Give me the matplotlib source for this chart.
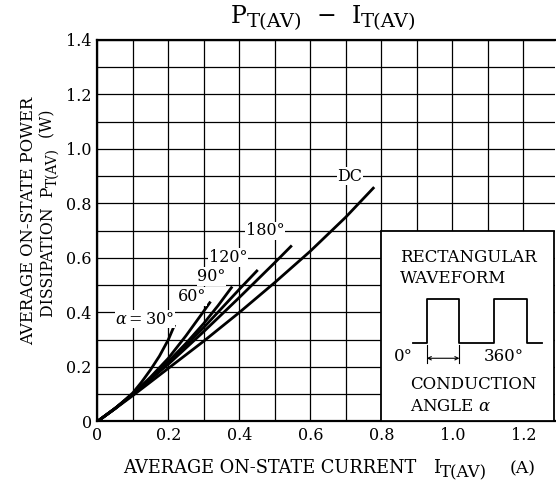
import matplotlib
matplotlib.use("Agg")
import matplotlib.pyplot as plt
from matplotlib.ticker import MultipleLocator, FuncFormatter
from matplotlib.patches import Rectangle

plt.rcParams["font.family"] = "DejaVu Serif"
plt.rcParams["mathtext.fontset"] = "custom"
plt.rcParams["mathtext.rm"] = "DejaVu Serif"
plt.rcParams["mathtext.it"] = "DejaVu Serif:italic"

# curve data (A, W)
dc_i = [0, 0.05, 0.1, 0.2, 0.3, 0.4, 0.5, 0.6, 0.7, 0.78]
dc_p = [0, 0.047, 0.095, 0.195, 0.295, 0.40, 0.51, 0.625, 0.75, 0.86]
a180_i = [0, 0.05, 0.1, 0.2, 0.3, 0.4, 0.5, 0.548]
a180_p = [0, 0.048, 0.10, 0.21, 0.33, 0.455, 0.583, 0.646]
a120_i = [0, 0.05, 0.1, 0.2, 0.3, 0.4, 0.452]
a120_p = [0, 0.048, 0.10, 0.215, 0.345, 0.485, 0.556]
a90_i = [0, 0.05, 0.1, 0.15, 0.2, 0.25, 0.3, 0.34, 0.38]
a90_p = [0, 0.048, 0.10, 0.158, 0.22, 0.287, 0.36, 0.425, 0.495]
a60_i = [0, 0.05, 0.1, 0.15, 0.2, 0.25, 0.3, 0.319]
a60_p = [0, 0.048, 0.10, 0.163, 0.232, 0.315, 0.405, 0.44]
a30_i = [0, 0.05, 0.1, 0.125, 0.15, 0.175, 0.2, 0.218]
a30_p = [0, 0.047, 0.105, 0.145, 0.19, 0.24, 0.30, 0.355]

curves = [(dc_i, dc_p), (a180_i, a180_p), (a120_i, a120_p),
          (a90_i, a90_p), (a60_i, a60_p), (a30_i, a30_p)]

# curve labels: text, x, y
labels = [("DC", 0.712, 0.90), ("180°", 0.473, 0.70), ("120°", 0.369, 0.602),
          ("90°", 0.322, 0.532), ("60°", 0.266, 0.459),
          (r"$\alpha$$=$30°", 0.134, 0.376)]

fig = plt.figure(figsize=(5.56, 4.88), dpi=100)
ax = fig.add_axes([0.175, 0.1363, 0.8237, 0.7818])
ax.set_xlim(0, 1.29)
ax.set_ylim(0, 1.4)


def rich_text(x, y, pieces, vertical=False):
    """pieces: (text, size, gap_pt, drop_pt) laid out one after another,
    drop_pt lowers a piece relative to the one before it."""
    txt, size, _, _ = pieces[0]
    prev = fig.text(x, y, txt, fontsize=size, ha="left", va="baseline",
                    rotation=90 if vertical else 0, rotation_mode="anchor")
    for txt, size, gap, drop in pieces[1:]:
        if vertical:
            prev = ax.annotate(txt, xy=(1, 1), xycoords=prev,
                               xytext=(drop, gap), textcoords="offset points",
                               fontsize=size, rotation=90, ha="right",
                               va="bottom", annotation_clip=False)
        else:
            prev = ax.annotate(txt, xy=(1, 0), xycoords=prev,
                               xytext=(gap, -drop), textcoords="offset points",
                               fontsize=size, ha="left", va="bottom",
                               annotation_clip=False)


ax.xaxis.set_major_locator(MultipleLocator(0.2))
ax.xaxis.set_minor_locator(MultipleLocator(0.1))
ax.yaxis.set_major_locator(MultipleLocator(0.2))
ax.yaxis.set_minor_locator(MultipleLocator(0.1))
fmt = FuncFormatter(lambda v, p: "0" if abs(v) < 1e-9 else f"{v:.1f}")
ax.xaxis.set_major_formatter(fmt)
ax.yaxis.set_major_formatter(fmt)
ax.tick_params(which="both", length=0, labelsize=11.5, pad=4)
ax.grid(which="both", color="black", linewidth=0.9)
ax.set_axisbelow(True)
for s in ["left", "bottom", "top"]:
    ax.spines[s].set_linewidth(1.6)
ax.spines["right"].set_visible(False)

for xs, ys in curves:
    ax.plot(xs, ys, color="black", lw=2.0, solid_capstyle="butt",
            solid_joinstyle="round", zorder=3)

for txt, x, y in labels:
    ax.text(x, y, txt, ha="center", va="center", fontsize=11.5, zorder=4,
            bbox=dict(facecolor="white", edgecolor="none", pad=0.5))

# inset with waveform description
ax.add_patch(Rectangle((0.8, 0), 0.486, 0.7, facecolor="white",
                       edgecolor="black", lw=1.3, zorder=3))
ax.text(0.853, 0.60, "RECTANGULAR", fontsize=12, va="center", zorder=4)
ax.text(0.853, 0.523, "WAVEFORM", fontsize=12, va="center", zorder=4)
wave_x = [0.89, 0.928, 0.928, 1.02, 1.02, 1.117, 1.117, 1.21, 1.21, 1.252]
wave_y = [0.287, 0.287, 0.45, 0.45, 0.287, 0.287, 0.45, 0.45, 0.287, 0.287]
ax.plot(wave_x, wave_y, color="black", lw=1.3, zorder=4)
ax.plot([0.928, 0.928], [0.28, 0.215], color="black", lw=0.8, zorder=4)
ax.plot([1.02, 1.02], [0.28, 0.215], color="black", lw=0.8, zorder=4)
ax.annotate("", xy=(0.928, 0.232), xytext=(1.02, 0.232), zorder=4,
            arrowprops=dict(arrowstyle="<->", lw=0.8, color="black",
                            shrinkA=0, shrinkB=0, mutation_scale=6))
ax.text(0.861, 0.238, "0°", fontsize=12, ha="center", va="center", zorder=4)
ax.text(1.144, 0.238, "360°", fontsize=12, ha="center", va="center", zorder=4)
ax.text(0.881, 0.134, "CONDUCTION", fontsize=12, va="center", zorder=4)
ax.text(0.881, 0.054, r"ANGLE $\alpha$", fontsize=12, va="center", zorder=4)

# title and axis labels with large, lowered "T(AV)" subscripts
rich_text(0.415, 0.952, [("P", 17, 0, 0), ("T(AV)", 14, 0, 1.8),
                         ("  −  ", 17, 0, -1.8), ("I", 17, 0, 0),
                         ("T(AV)", 14, 0, 1.8)])
rich_text(0.221, 0.03, [("AVERAGE ON-STATE CURRENT", 12.8, 0, 0),
                        ("I", 12.8, 12, 0), ("T(AV)", 12, 0, 2.8),
                        ("(A)", 12.5, 16, -2.8)])
fig.text(0.052, 0.547, "AVERAGE ON-STATE POWER", rotation=90,
         ha="center", va="center", fontsize=11.8)
rich_text(0.095, 0.35, [("DISSIPATION  P", 11.3, 0, 0),
                        ("T(AV)", 9.8, 0, 2.2), ("  (W)", 11.3, 0, -2.2)],
          vertical=True)

fig.savefig("out.png", dpi=100)
